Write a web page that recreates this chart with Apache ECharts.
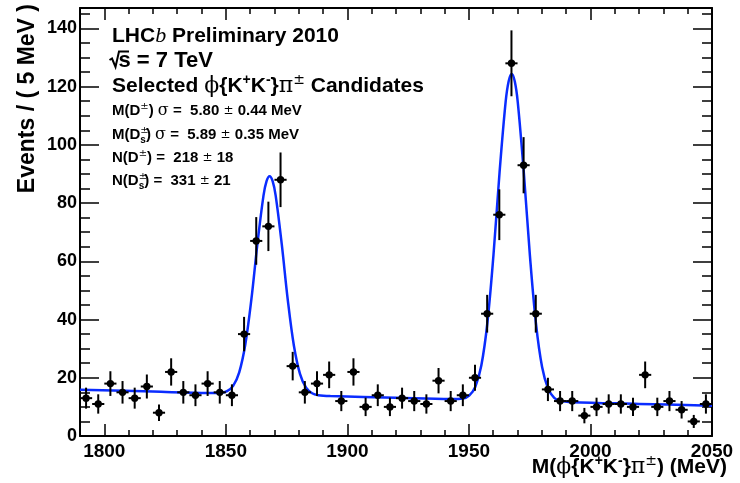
<!DOCTYPE html>
<html>
<head>
<meta charset="utf-8">
<script src="https://cdn.jsdelivr.net/npm/echarts@6/dist/echarts.min.js"></script>
<style>
  html, body { margin: 0; padding: 0; background: #ffffff; }
  #chart { width: 740px; height: 483px; }
</style>
</head>
<body>
<div id="chart"></div>
<script>
// Invariant mass of phi(K+K-)pi candidates, 5 MeV bins (bin centres, MeV)
const massCenters = [
  1792.5, 1797.5, 1802.5, 1807.5, 1812.5, 1817.5, 1822.5, 1827.5, 1832.5, 1837.5,
  1842.5, 1847.5, 1852.5, 1857.5, 1862.5, 1867.5, 1872.5, 1877.5, 1882.5, 1887.5,
  1892.5, 1897.5, 1902.5, 1907.5, 1912.5, 1917.5, 1922.5, 1927.5, 1932.5, 1937.5,
  1942.5, 1947.5, 1952.5, 1957.5, 1962.5, 1967.5, 1972.5, 1977.5, 1982.5, 1987.5,
  1992.5, 1997.5, 2002.5, 2007.5, 2012.5, 2017.5, 2022.5, 2027.5, 2032.5, 2037.5,
  2042.5, 2047.5
];
// Candidates per bin
const eventCounts = [
  13, 11, 18, 15, 13, 17, 8, 22, 15, 14,
  18, 15, 14, 35, 67, 72, 88, 24, 15, 18,
  21, 12, 22, 10, 14, 10, 13, 12, 11, 19,
  12, 14, 20, 42, 76, 128, 93, 42, 16, 12,
  12, 7, 10, 11, 11, 10, 21, 10, 12, 9,
  5, 11
];
const binWidth = 5;

// Fitted model (two Gaussian peaks on a linear background), sampled along the mass axis
const fitMass = [
  1790, 1820, 1843, 1848, 1850.5, 1853, 1855.5, 1858, 1860.5, 1863, 1865.5, 1866.75,
  1868, 1869.25, 1870.5, 1873, 1875.5, 1878, 1880.5, 1883, 1885.5, 1888, 1893, 1920,
  1942.6, 1947.6, 1950.1, 1952.6, 1955.1, 1957.6, 1960.1, 1962.6, 1965.1, 1966.35,
  1967.6, 1968.85, 1970.1, 1972.6, 1975.1, 1977.6, 1980.1, 1982.6, 1985.1, 1987.6,
  1992.6, 2020, 2050
];
const fitEvents = [
  15.90, 15.26, 14.78, 14.87, 15.41, 17.22, 21.87, 31.43, 46.91, 66.08, 82.65, 87.55,
  89.25, 87.50, 82.55, 65.87, 46.59, 31.01, 21.34, 16.59, 14.67, 14.03, 13.72, 13.14,
  12.68, 12.91, 13.87, 16.83, 24.20, 38.90, 62.17, 90.50, 114.73, 121.86,
  124.34, 121.81, 114.62, 90.29, 61.86, 38.48, 23.67, 16.20, 13.13, 12.07,
  11.62, 11.03, 10.39
];

// Axis ranges and labelled ticks
const massRange = [1790, 2050];
const eventsRange = [0, 147];
const massLabelTicks = [1800, 1850, 1900, 1950, 2000, 2050];
const eventsLabelTicks = [0, 20, 40, 60, 80, 100, 120, 140];

const SANS = "'Liberation Sans', Arial, Helvetica, sans-serif";
const SERIF = "'DejaVu Serif', 'Liberation Serif', serif";

const chart = echarts.init(document.getElementById('chart'), null, { renderer: 'canvas' });

const plainNumber = (v) => String(v);

function massAxes(position) {
  return [
    {
      type: 'value', position, min: massRange[0], max: massRange[1],
      axisLine: { show: true, onZero: false, lineStyle: { color: '#000', width: 2 } },
      axisTick: { show: true, inside: true, length: 12, customValues: massLabelTicks,
        lineStyle: { color: '#000', width: 1.5 } },
      axisLabel: { show: position === 'bottom', customValues: massLabelTicks, margin: 6,
        formatter: plainNumber,
        color: '#000', fontSize: 19, fontWeight: 'bold', fontFamily: SANS },
      splitLine: { show: false }
    },
    {
      type: 'value', position, min: massRange[0], max: massRange[1], interval: 10,
      axisLine: { show: false, onZero: false },
      axisTick: { show: true, inside: true, length: 6, lineStyle: { color: '#000', width: 1.5 } },
      axisLabel: { show: false },
      splitLine: { show: false }
    }
  ];
}

function eventAxes(position) {
  return [
    {
      type: 'value', position, min: eventsRange[0], max: eventsRange[1],
      axisLine: { show: true, onZero: false, lineStyle: { color: '#000', width: 2 } },
      axisTick: { show: true, inside: true, length: 19, customValues: eventsLabelTicks,
        lineStyle: { color: '#000', width: 1.5 } },
      axisLabel: { show: position === 'left', customValues: eventsLabelTicks, margin: 3,
        formatter: plainNumber,
        color: '#000', fontSize: 18, fontWeight: 'bold', fontFamily: SANS },
      splitLine: { show: false }
    },
    {
      type: 'value', position, min: eventsRange[0], max: eventsRange[1], interval: 5,
      axisLine: { show: false, onZero: false },
      axisTick: { show: true, inside: true, length: 10, lineStyle: { color: '#000', width: 1.5 } },
      axisLabel: { show: false },
      splitLine: { show: false }
    }
  ];
}

// Data point with Poisson error bar and bin-width horizontal bar
function renderPoint(params, api) {
  const m = api.value(0), n = api.value(1), e = api.value(2);
  const c = api.coord([m, n]);
  const hi = api.coord([m, n + e]);
  const lo = api.coord([m, n - e]);
  const l = api.coord([m - binWidth / 2, n]);
  const r = api.coord([m + binWidth / 2, n]);
  const st = { stroke: '#000', lineWidth: 2 };
  return {
    type: 'group',
    children: [
      { type: 'line', shape: { x1: c[0], y1: hi[1], x2: c[0], y2: lo[1] }, style: st },
      { type: 'line', shape: { x1: l[0], y1: c[1], x2: r[0], y2: c[1] }, style: st },
      { type: 'circle', shape: { cx: c[0], cy: c[1], r: 3.7 }, style: { fill: '#000' } }
    ]
  };
}

const bigFont = { fontSize: 21, fontWeight: 'bold', fontFamily: SANS, fill: '#000', lineHeight: 26 };
const bigRich = {
  g: { fontFamily: SERIF, fontWeight: 'normal', fontSize: 22, lineHeight: 26 },
  sup: { fontSize: 14, fontWeight: 'bold', fontFamily: SANS, lineHeight: 14, verticalAlign: 'top' },
  supg: { fontSize: 14, fontWeight: 'normal', fontFamily: SERIF, lineHeight: 14, verticalAlign: 'top' },
  it: { fontFamily: "'Liberation Serif', serif", fontStyle: 'italic', fontWeight: 'normal', fontSize: 22, lineHeight: 26 }
};
const smallFont = { fontSize: 15, fontWeight: 'bold', fontFamily: SANS, fill: '#000', lineHeight: 20 };
const smallRich = {
  g: { fontFamily: SERIF, fontWeight: 'normal', fontSize: 16, lineHeight: 20 },
  pm: { fontFamily: SERIF, fontWeight: 'normal', fontSize: 12, lineHeight: 20 },
  sup: { fontFamily: SERIF, fontWeight: 'normal', fontSize: 10, lineHeight: 11, verticalAlign: 'top' },
  supz: { fontFamily: SERIF, fontWeight: 'normal', fontSize: 10, lineHeight: 11, verticalAlign: 'top', width: 0 },
  sub: { fontFamily: SANS, fontWeight: 'bold', fontSize: 10, lineHeight: 11, verticalAlign: 'bottom' }
};

function textEl(x, y, text, base, rich, align) {
  return {
    type: 'text', x, y, z: 10,
    style: Object.assign({ text, rich, align: align || 'left', verticalAlign: 'middle' }, base)
  };
}

const graphics = [
  textEl(112, 36, 'LHC{it|b} Preliminary 2010', bigFont, bigRich),
  // square-root sign over s
  { type: 'polyline', z: 10, shape: { points: [[109.5, 60], [112, 58.5], [115.5, 67], [119, 51.5], [129, 51.5]] },
    style: { stroke: '#000', lineWidth: 2, fill: null } },
  textEl(118.5, 61, 's = 7 TeV', Object.assign({}, bigFont, { fontSize: 22 }), bigRich),
  textEl(112, 86, 'Selected {g|ϕ}{K{sup|+}K{sup|-}}{g|π}{supg|±} Candidates', bigFont, bigRich),
  textEl(112, 111, 'M(D{sup|±}) {g|σ} =  5.80 {pm|±} 0.44 MeV', smallFont, smallRich),
  textEl(112, 135, 'M(D{supz|±}{sub|s}) {g|σ} =  5.89 {pm|±} 0.35 MeV', smallFont, smallRich),
  textEl(112, 158, 'N(D{sup|±}) =  218 {pm|±} 18', smallFont, smallRich),
  textEl(112, 181, 'N(D{supz|±}{sub|s}) =  331 {pm|±} 21', smallFont, smallRich),
  // axis titles
  textEl(727, 467, 'M({g|ϕ}{K{sup|+}K{sup|-}}{g|π}{supg|±}) (MeV)', bigFont, bigRich, 'right'),
  {
    type: 'text', x: 28, y: 4, rotation: Math.PI / 2, z: 10,
    style: { text: 'Events / ( 5 MeV )', align: 'right', verticalAlign: 'middle',
      fontSize: 23, fontWeight: 'bold', fontFamily: SANS, fill: '#000' }
  }
];

const option = {
  animation: false,
  backgroundColor: '#ffffff',
  grid: { left: 80, right: 28, top: 8, bottom: 47, containLabel: false, outerBoundsMode: 'none' },
  xAxis: [].concat(massAxes('bottom'), massAxes('top')),
  yAxis: [].concat(eventAxes('left'), eventAxes('right')),
  graphic: graphics,
  series: [
    {
      type: 'line', xAxisIndex: 0, yAxisIndex: 0, z: 2,
      data: fitMass.map((m, i) => [m, fitEvents[i]]),
      showSymbol: false, smooth: 0.35,
      lineStyle: { color: '#0a2cff', width: 2.5 }
    },
    {
      type: 'custom', xAxisIndex: 0, yAxisIndex: 0, z: 3,
      data: massCenters.map((m, i) => [m, eventCounts[i], Math.sqrt(eventCounts[i])]),
      renderItem: renderPoint, clip: false
    }
  ]
};
chart.setOption(option);
</script>
</body>
</html>
